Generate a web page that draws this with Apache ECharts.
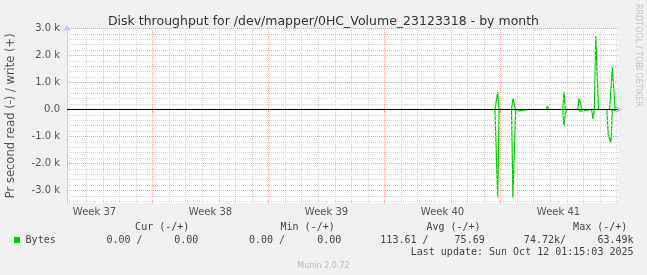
<!DOCTYPE html>
<html>
<head>
<meta charset="utf-8">
<script src="https://cdn.jsdelivr.net/npm/echarts@6/dist/echarts.min.js"></script>
<style>
html,body{margin:0;padding:0;background:#f0f0f0;}
#chart{width:647px;height:275px;}
</style>
</head>
<body>
<div id="chart"></div>
<script>
// ---- data (hours relative to Mon Oct 6 00:00) ----
const TITLE = "Disk throughput for /dev/mapper/0HC_Volume_23123318 - by month";
const Y_NAME = "Pr second read (-) / write (+)";
const hours      = [-8, -6, -4, -2, 16, 18, 20, 22, 24, 26, 28, 42, 44, 46, 66, 68, 70, 90, 92, 94, 96, 112, 114, 116, 118, 132, 134, 136, 138, 140, 142, 154, 156, 158, 160, 162, 164, 166, 168];
const readBytes  = [0, 0, 3270, 0, 0, 3270, 3270, 0, 50, 50, 0, 0, 60, 0, 0, 60, 0, 0, 620, 150, 0, 0, 0, 60, 0, 0, 350, 0, 0, 0, 0, 0, 910, 910, 1220, 0, 0, 40, 40];
const writeBytes = [0, 0, 650, 0, 0, 400, 420, 0, 0, 0, 0, 0, 60, 0, 0, 120, 0, 0, 650, 0, 0, 0, 420, 380, 0, 0, 0, 0, 2720, 2720, 0, 0, 0, 0, 0, 1560, 1560, 0, 0];

const weekStarts = [-504, -336, -168, 0];
const weekMids   = [-588, -420, -252, -84, 84];
const weekLabels = ["Week 37", "Week 38", "Week 39", "Week 40", "Week 41"];

const yTicks      = [-3000, -2000, -1000, 0, 1000, 2000, 3000];
const yTickLabels = ["-3.0 k", "-2.0 k", "-1.0 k", "0.0", "1.0 k", "2.0 k", "3.0 k"];

const legendHeaders = ["Cur (-/+)", "Min (-/+)", "Avg (-/+)", "Max (-/+)"];
const legendValues  = ["0.00 /", "0.00", "0.00 /", "0.00", "113.61 /", "75.69", "74.72k/", "63.49k"];
const LAST_UPDATE = "Last update: Sun Oct 12 01:15:03 2025";
const MUNIN = "Munin 2.0.72";
const RRD = "RRDTOOL / TOBI OETIKER";

// ---- layout ----
const X_MIN = -627.8, X_MAX = 170.2;
const Y_MIN = -3463, Y_MAX = 3000;
const FONT = "DejaVu Sans";
const MONO = "DejaVu Sans Mono";

// grid line positions
const dayLines = [];
for (let h = -624; h <= 168; h += 24) if (weekStarts.indexOf(h) < 0) dayLines.push(h);
const yMinor = [];
for (let v = -3400; v <= 2800; v += 200) if (v % 1000 !== 0) yMinor.push(v);

const minorStyle = {color: '#d4d4d4', type: [1, 1], width: 1};
const majorStyle = {color: '#f0a0a0', type: [1, 1], width: 1};

const gridMarks = [];
dayLines.forEach(h => gridMarks.push({xAxis: h, lineStyle: minorStyle}));
yMinor.forEach(v => gridMarks.push({yAxis: v, lineStyle: minorStyle}));
weekStarts.forEach(h => gridMarks.push({xAxis: h, lineStyle: majorStyle}));
yTicks.filter(v => v !== 0).forEach(v => gridMarks.push({yAxis: v, lineStyle: majorStyle}));

const readData  = hours.map((h, i) => [h, -readBytes[i]]);
const writeData = hours.map((h, i) => [h, writeBytes[i]]);

const chart = echarts.init(document.getElementById('chart'), null, {renderer: 'canvas'});

// legend graphics
const headerRights = [189.3, 334.7, 480.6, 627.3];
const valueRights  = [142.6, 198.3, 285, 341.3, 428.5, 484.7, 566, 633.5];
const graphics = [];
legendHeaders.forEach((t, i) => graphics.push({type: 'text', x: headerRights[i], y: 227, style: {text: t, font: '10px ' + MONO, fill: '#444', textAlign: 'right', textVerticalAlign: 'middle'}}));
graphics.push({type: 'rect', shape: {x: 14, y: 237, width: 6, height: 6}, style: {fill: '#00cc00'}});
graphics.push({type: 'text', x: 25.6, y: 240, style: {text: 'Bytes', font: '10px ' + MONO, fill: '#444', textAlign: 'left', textVerticalAlign: 'middle'}});
legendValues.forEach((t, i) => graphics.push({type: 'text', x: valueRights[i], y: 240, style: {text: t, font: '10px ' + MONO, fill: '#444', textAlign: 'right', textVerticalAlign: 'middle'}}));
graphics.push({type: 'text', x: 633.5, y: 252, style: {text: LAST_UPDATE, font: '10px ' + MONO, fill: '#444', textAlign: 'right', textVerticalAlign: 'middle'}});
graphics.push({type: 'text', x: 323.5, y: 266, style: {text: MUNIN, font: '8px ' + FONT, fill: '#bbbbbb', textAlign: 'center', textVerticalAlign: 'middle'}});
graphics.push({type: 'text', x: 638, y: 4, rotation: -Math.PI / 2, style: {text: RRD, font: '8px ' + FONT, fill: '#c4c4c4', textAlign: 'left', textVerticalAlign: 'middle'}});

const axisColor = '#c4c4ee';

chart.setOption({
  backgroundColor: '#f0f0f0',
  animation: false,
  title: {
    text: TITLE, left: 'center', top: 10,
    textStyle: {fontFamily: FONT, fontSize: 12.5, fontWeight: 'normal', color: '#333'}
  },
  grid: {left: 67, right: 29, top: 28.5, bottom: 72, show: true, backgroundColor: '#ffffff', borderWidth: 0,
         containLabel: false, outerBoundsMode: 'none'},
  xAxis: {
    type: 'value', min: X_MIN, max: X_MAX,
    splitLine: {show: false},
    axisLine: {show: true, lineStyle: {color: axisColor}, symbol: ['none', 'arrow'], symbolSize: [6, 7], symbolOffset: [0, 4]},
    axisTick: {show: true, customValues: weekStarts, length: 3, lineStyle: {color: '#ee7777'}},
    axisLabel: {customValues: weekMids, formatter: v => weekLabels[weekMids.indexOf(v)], fontFamily: FONT, fontSize: 10, color: '#555', margin: 4}
  },
  yAxis: {
    type: 'value', min: Y_MIN, max: Y_MAX,
    name: Y_NAME, nameLocation: 'middle', nameGap: 50, nameRotate: 90,
    nameTextStyle: {fontFamily: FONT, fontSize: 11.5, color: '#555'},
    splitLine: {show: false},
    axisLine: {show: true, onZero: false, lineStyle: {color: axisColor}, symbol: ['none', 'arrow'], symbolSize: [6, 7], symbolOffset: [0, 4]},
    axisTick: {show: false},
    axisLabel: {customValues: yTicks, formatter: v => yTickLabels[yTicks.indexOf(v)], fontFamily: FONT, fontSize: 10, color: '#555', margin: 7}
  },
  series: [
    {type: 'line', data: [], z: 1, silent: true,
     markLine: {silent: true, symbol: 'none', animation: false, label: {show: false}, data: gridMarks}},
    {name: 'read', type: 'line', data: readData, showSymbol: false, symbol: 'none', z: 3,
     lineStyle: {color: '#00cc00', width: 1.2}},
    {name: 'write', type: 'line', data: writeData, showSymbol: false, symbol: 'none', z: 3,
     lineStyle: {color: '#00cc00', width: 1.2}},
    {type: 'line', data: [], z: 5, silent: true,
     markLine: {silent: true, symbol: 'none', animation: false, label: {show: false},
       data: [{yAxis: 0, lineStyle: {color: '#000000', type: 'solid', width: 1}}]}}
  ],
  graphic: graphics
});
</script>
</body>
</html>
